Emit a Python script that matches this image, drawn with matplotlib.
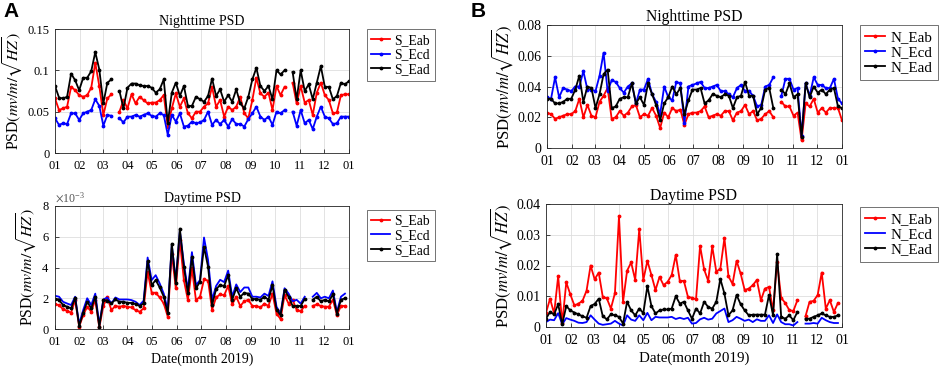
import numpy as np
import pandas as pd
import matplotlib
matplotlib.use("Agg")
import matplotlib.pyplot as plt
from matplotlib.ticker import FuncFormatter, ScalarFormatter, MultipleLocator

nan = np.nan

# ---------------- data (5-day samples through 2019) ----------------
dates = pd.date_range("2019-01-01", periods=74, freq="5D")
month_ticks = pd.date_range("2019-01-01", "2020-01-01", freq="MS")
month_labels = [d.strftime("%m") for d in month_ticks]

# Panel A, nighttime (mv/m/sqrt(Hz))
S_Eab_night = [0.066,0.052,0.054,0.056,0.080,0.076,0.070,0.068,0.070,0.079,0.109,0.081,0.046,0.066,0.071,
               nan,
               0.050,0.064,0.054,0.071,0.060,0.068,0.064,0.060,0.061,0.061,0.064,0.070,0.032,0.054,0.072,0.056,
               0.066,0.048,0.042,0.050,0.050,0.056,0.060,0.080,0.056,0.064,0.044,0.056,0.052,0.056,0.068,0.048,
               0.042,0.064,0.091,0.072,0.068,0.073,0.052,0.081,0.070,0.080,
               nan,
               0.085,0.060,0.081,0.061,0.064,0.046,0.073,0.085,0.070,0.064,0.048,0.049,0.070,0.071,0.071]
S_Ecd_night = [0.042,0.034,0.036,0.035,0.048,0.048,0.040,0.048,0.050,0.052,0.065,0.057,0.033,0.046,0.045,
               nan,
               0.042,0.037,0.044,0.044,0.046,0.044,0.046,0.048,0.045,0.044,0.048,0.046,0.022,0.046,0.038,0.048,
               0.032,0.033,0.038,0.036,0.037,0.040,0.050,0.034,0.040,0.035,0.040,0.032,0.041,0.035,0.035,0.032,
               0.041,0.048,0.056,0.044,0.040,0.044,0.034,0.050,0.048,0.052,
               nan,
               0.050,0.033,0.052,0.036,0.040,0.029,0.044,0.056,0.044,0.042,0.035,0.036,0.044,0.044,0.044]
S_Ead_night = [0.081,0.067,0.066,0.068,0.096,0.088,0.076,0.091,0.091,0.099,0.122,0.101,0.060,0.085,0.089,
               nan,
               0.075,0.054,0.079,0.084,0.084,0.082,0.081,0.081,0.079,0.073,0.077,0.089,0.036,0.073,0.085,0.069,
               0.081,0.057,0.057,0.068,0.065,0.062,0.069,0.090,0.069,0.077,0.062,0.070,0.062,0.077,0.060,0.054,
               0.068,0.089,0.103,0.081,0.075,0.081,0.065,0.100,0.095,0.100,
               nan,
               0.098,0.065,0.100,0.075,0.083,0.065,0.085,0.105,0.080,0.080,0.065,0.069,0.085,0.083,0.087]

# Panel A, daytime (x 1e-3 mv/m/sqrt(Hz))
S_Eab_day = [1.6,1.56,1.28,1.19,1.06,1.88,0.15,0.9,1.45,1.12,1.9,0.1,1.5,2.05,1.23,1.5,1.45,1.5,1.45,1.4,
             1.23,1.12,1.34,3.72,2.36,2.36,2.05,1.66,0.8,4.9,2.64,5.77,3.18,1.88,3.94,1.88,2.1,3.22,3.15,1.25,
             2.05,2.25,2.2,2.8,1.6,2.1,1.5,1.8,1.9,1.5,1.5,1.4,1.65,1.5,2.3,1.0,0.65,2.2,1.65,1.9,
             1.25,1.15,1.5,nan,1.5,1.6,1.5,1.45,1.45,1.9,0.9,1.5,1.5,nan]
S_Ecd_day = [2.16,2.1,1.77,1.66,1.56,2.1,0.32,1.23,2.0,1.56,2.3,0.3,1.92,2.05,1.66,2.05,1.92,1.92,1.92,1.88,
             1.77,1.56,1.84,4.65,3.18,3.5,2.96,2.3,1.23,5.45,3.18,6.38,4.26,2.53,5.0,2.85,3.18,5.95,4.5,1.9,
             2.8,3.2,3.05,3.8,2.1,2.9,2.4,2.7,2.7,2.1,2.1,2.05,2.3,2.15,3.1,1.45,1.0,2.65,2.3,1.8,
             1.9,1.65,2.1,nan,2.1,2.35,2.0,2.1,2.0,2.5,1.1,2.1,2.3,nan]
S_Ead_day = [1.92,1.88,1.56,1.45,1.34,2.03,0.2,1.06,1.77,1.34,2.1,0.15,1.88,1.85,1.66,1.92,1.77,1.77,1.7,1.7,
             1.62,1.5,1.66,4.43,2.85,3.18,2.7,2.1,1.02,5.55,2.96,6.53,4.04,2.31,4.7,2.64,3.07,5.34,4.05,1.55,
             2.6,2.85,2.8,3.5,1.9,2.65,2.1,2.35,2.3,1.95,1.95,1.9,2.1,1.9,2.85,1.25,0.9,2.55,2.1,1.5,
             1.5,1.5,1.95,nan,1.9,2.1,1.8,1.9,1.8,2.25,1.0,1.9,2.0,nan]

# Panel B, nighttime
N_Eab_night = [0.023,0.022,0.019,0.020,0.021,0.022,0.022,0.024,0.032,0.020,0.028,0.021,0.020,0.030,0.034,
               0.039,0.019,0.020,0.024,0.021,0.023,0.027,0.028,0.020,0.022,0.021,0.026,0.021,0.013,0.023,
               0.020,0.026,0.024,0.025,0.015,0.022,0.023,0.023,0.024,0.027,0.020,0.021,0.022,0.021,0.024,
               0.024,0.018,0.023,0.024,0.028,0.022,0.024,0.018,0.019,0.022,0.024,0.020,nan,0.030,0.027,
               0.027,0.021,0.023,0.005,0.029,0.027,0.032,0.023,0.026,0.023,0.026,0.026,0.026,0.018]
N_Ecd_night = [0.033,0.032,0.046,0.033,0.039,0.038,0.037,0.040,0.040,0.050,0.038,0.038,0.037,0.047,0.062,
               0.037,0.044,0.043,0.039,0.036,0.040,0.042,0.029,0.038,0.038,0.045,0.035,0.030,0.022,0.040,
               0.033,0.031,0.043,0.042,0.016,0.040,0.041,0.042,0.043,0.039,0.039,0.040,0.041,0.037,0.037,
               0.035,0.033,0.039,0.041,0.037,0.037,0.034,0.027,0.028,0.040,0.041,0.046,nan,0.034,0.045,
               0.045,0.038,0.039,0.008,0.042,0.034,0.046,0.041,0.041,0.039,0.039,0.045,0.032,0.029]
N_Ead_night = [0.032,0.032,0.029,0.029,0.030,0.032,0.032,0.038,0.047,0.030,0.040,0.039,0.026,0.035,0.048,
               0.051,0.026,0.027,0.032,0.033,0.033,0.042,0.029,0.033,0.028,0.042,0.035,0.028,0.018,0.029,
               0.033,0.040,0.035,0.039,0.022,0.031,0.038,0.038,0.039,0.029,0.031,0.035,0.034,0.033,0.035,
               0.034,0.026,0.033,0.034,0.043,0.034,0.034,0.022,0.026,0.038,0.039,0.026,nan,0.038,0.035,
               0.042,0.033,0.035,0.007,0.042,0.033,0.040,0.036,0.038,0.035,0.038,0.039,0.027,0.026]

# Panel B, daytime
N_Eab_day = [0.0046,0.0092,0.0044,0.0165,0.0012,0.0145,0.0106,0.0070,0.0076,0.0085,0.0118,0.0200,0.0155,
             0.0177,0.0098,0.0093,0.0060,0.0110,0.0360,0.0082,0.0183,0.0210,0.0153,0.0318,0.0153,0.0215,
             0.0169,0.0120,0.0163,0.0136,0.0147,0.0169,0.0234,0.0150,0.0150,0.0098,0.0095,0.0090,0.0264,
             0.0187,0.0150,0.0262,0.0180,0.0190,0.0289,0.0165,0.0140,0.0215,0.0174,0.0120,0.0125,0.0136,
             0.0153,0.0087,0.0125,0.0130,0.0054,0.0210,0.0095,0.0078,0.0055,0.0052,0.0087,nan,0.0035,
             0.0082,0.0085,0.0104,0.0177,0.0060,0.0087,0.0049,0.0078,nan]
N_Ecd_day = [0.0016,0.0024,0.0022,0.0045,0.0009,0.0029,0.0024,0.0020,0.0014,0.0013,0.0016,0.0038,0.0024,
             0.0011,0.0007,0.0009,0.0011,0.0020,0.0011,0.0005,0.0038,0.0024,0.0020,0.0038,0.0022,0.0046,
             0.0022,0.0033,0.0031,0.0031,0.0031,0.0033,0.0026,0.0030,0.0026,0.0030,0.0011,0.0013,0.0025,
             0.0030,0.0024,0.0027,0.0044,0.0052,0.0060,0.0016,0.0022,0.0033,0.0027,0.0020,0.0024,0.0016,
             0.0025,0.0020,0.0020,0.0038,0.0013,0.0041,0.0016,0.0009,0.0009,0.0005,0.0016,nan,0.0011,
             0.0011,0.0013,0.0011,0.0030,0.0022,0.0016,0.0013,0.0013,nan]
N_Ead_day = [0.0027,0.0049,0.0041,0.0074,0.0009,0.0068,0.0054,0.0047,0.0041,0.0035,0.0030,0.0068,0.0075,
             0.0092,0.0035,0.0025,0.0041,0.0038,0.0033,0.0011,0.0082,0.0054,0.0038,0.0060,0.0045,0.0133,
             0.0068,0.0044,0.0054,0.0057,0.0057,0.0060,0.0100,0.0076,0.0082,0.0054,0.0027,0.0060,0.0044,
             0.0082,0.0065,0.0060,0.0082,0.0156,0.0109,0.0038,0.0054,0.0104,0.0074,0.0054,0.0038,0.0040,
             0.0040,0.0040,0.0040,0.0104,0.0038,0.0238,0.0033,0.0027,0.0038,0.0022,0.0049,nan,0.0027,
             0.0027,0.0033,0.0038,0.0044,0.0038,0.0033,0.0033,0.0038,nan]

DAY_SCALE = 1e-3  # panel A daytime values are read in units of 1e-3

# ---------------- style ----------------
plt.rcParams["font.family"] = ["Liberation Serif", "DejaVu Serif"]
plt.rcParams["mathtext.fontset"] = "stix"

RED, BLUE, BLACK = "#ff0000", "#0000ff", "#000000"
ylab = r"PSD$(mv/m/\sqrt{HZ})$"

fig = plt.figure(figsize=(9.41, 3.70), dpi=100)

def px_axes(x0, x1, y0, y1):
    return fig.add_axes([x0 / 941, 1 - y1 / 370, (x1 - x0) / 941, (y1 - y0) / 370])

def style(ax, ylim, ystep, title, fs, xlabel=False):
    ax.set_xlim(month_ticks[0], month_ticks[-1])
    ax.set_xticks(month_ticks)
    ax.set_xticklabels(month_labels)
    ax.set_ylim(*ylim)
    ax.yaxis.set_major_locator(MultipleLocator(ystep))
    ax.grid(True, color="#dedede", lw=0.6)
    ax.set_axisbelow(True)
    ax.tick_params(direction="in", length=3, width=0.6, labelsize=fs["tick"],
                   colors="#262626")
    ax.tick_params(axis="x", pad=5)
    ax.tick_params(axis="y", pad=4)
    for lab in ax.get_xticklabels() + ax.get_yticklabels():
        lab.set_color("black")
    for s in ax.spines.values():
        s.set_color("#262626")
        s.set_linewidth(0.6)
    ax.set_title(title, fontsize=fs["title"], pad=3)
    ax.set_ylabel(ylab, fontsize=fs["ylab"], labelpad=2)
    if xlabel:
        ax.set_xlabel("Date(month 2019)", fontsize=fs["xlab"], labelpad=3)

def gfmt(v, _):
    return "%g" % round(v, 6)

def plot3(ax, a, b, c, names, day):
    ax.plot(dates, a, color=RED, lw=1.3, marker=".", ms=3.5, label=names[0])
    if day:
        ax.plot(dates, b, color=BLUE, lw=1.3, label=names[1])
    else:
        ax.plot(dates, b, color=BLUE, lw=1.3, marker=".", ms=3.5, label=names[1])
    ax.plot(dates, c, color=BLACK, lw=1.3, marker=".", ms=3.5, label=names[2])

def legend(ax, y, fs):
    leg = ax.legend(loc="upper left", bbox_to_anchor=(1.06, y), fontsize=fs,
                    frameon=True, fancybox=False, edgecolor="#333333",
                    handlelength=1.35, handletextpad=0.35, labelspacing=0.12,
                    borderpad=0.35, borderaxespad=0)
    leg.get_frame().set_linewidth(0.6)

FS_A = dict(tick=9, title=10, ylab=11.3, xlab=10)
FS_B = dict(tick=10, title=11.3, ylab=12, xlab=10.8)

# Panel A top
ax1 = px_axes(55, 349, 29, 153)
plot3(ax1, S_Eab_night, S_Ecd_night, S_Ead_night, ["S_Eab", "S_Ecd", "S_Ead"], False)
style(ax1, (0, 0.15), 0.05, "Nighttime PSD", FS_A)
ax1.yaxis.set_major_formatter(FuncFormatter(gfmt))
legend(ax1, 1.0, 9.8)

# Panel A bottom
ax2 = px_axes(55, 349, 206, 329)
plot3(ax2, np.array(S_Eab_day) * DAY_SCALE, np.array(S_Ecd_day) * DAY_SCALE,
      np.array(S_Ead_day) * DAY_SCALE, ["S_Eab", "S_Ecd", "S_Ead"], True)
style(ax2, (0, 8e-3), 2e-3, "Daytime PSD", FS_A, xlabel=True)
sf = ScalarFormatter(useMathText=True)
sf.set_powerlimits((-2, 2))
ax2.yaxis.set_major_formatter(sf)
ax2.yaxis.get_offset_text().set_fontsize(8.5)
ax2.yaxis.get_offset_text().set_color("#555555")
legend(ax2, 0.97, 9.8)

# Panel B top
ax3 = px_axes(547, 842, 25, 148)
plot3(ax3, N_Eab_night, N_Ecd_night, N_Ead_night, ["N_Eab", "N_Ecd", "N_Ead"], False)
style(ax3, (0, 0.08), 0.02, "Nighttime PSD", FS_B)
ax3.yaxis.set_major_formatter(FuncFormatter(gfmt))
legend(ax3, 1.0, 10.8)

# Panel B bottom
ax4 = px_axes(546, 842, 204, 327)
plot3(ax4, N_Eab_day, N_Ecd_day, N_Ead_day, ["N_Eab", "N_Ecd", "N_Ead"], True)
style(ax4, (0, 0.04), 0.01, "Daytime PSD", FS_B, xlabel=True)
ax4.yaxis.set_major_formatter(FuncFormatter(gfmt))
legend(ax4, 0.975, 10.8)

fig.text(3 / 941, 1 - 2 / 370, "A", fontsize=15, fontweight="bold",
         family=["Liberation Sans", "DejaVu Sans"], va="top", ha="left")
fig.text(471 / 941, 1 - 2 / 370, "B", fontsize=15, fontweight="bold",
         family=["Liberation Sans", "DejaVu Sans"], va="top", ha="left")

fig.savefig("out.png", dpi=100)
